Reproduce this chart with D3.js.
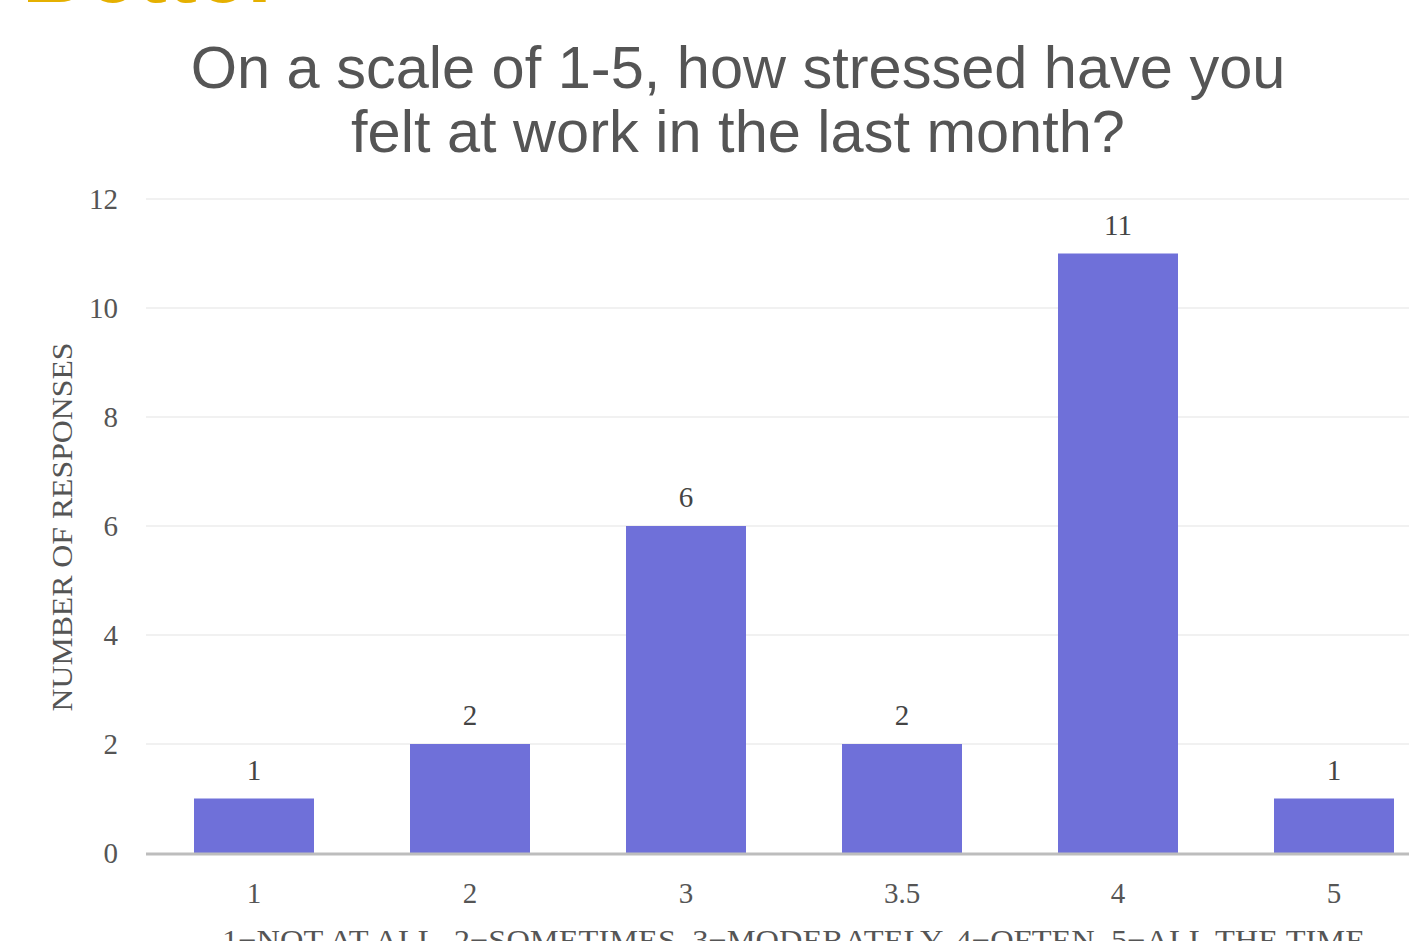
<!DOCTYPE html>
<html>
<head>
<meta charset="utf-8">
<script src="https://cdn.jsdelivr.net/npm/d3@7"></script>
<style>
  body { margin: 0; background: #fff; }
  svg { display: block; }
</style>
</head>
<body>
<div id="chart-container"></div>
<script>
// data
var categories = ['1', '2', '3', '3.5', '4', '5'];
var responses = [1, 2, 6, 2, 11, 1];
var yTicks = [0, 2, 4, 6, 8, 10, 12];

var titleLines = ['On a scale of 1-5, how stressed have you', 'felt at work in the last month?'];
var xTitle = '1\u2212NOT AT ALL, 2\u2212SOMETIMES, 3\u2212MODERATELY, 4\u2212OFTEN, 5\u2212ALL THE TIME';
var yTitle = 'NUMBER OF RESPONSES';

var W = 1409, H = 941;
var margin = { top: 199, right: 0, bottom: 88, left: 146 };
var height = H - margin.top - margin.bottom;

var svg = d3.select('#chart-container').append('svg')
  .attr('width', W)
  .attr('height', H);

// clipped header word at the very top
svg.append('text')
  .attr('x', 22)
  .attr('y', 2)
  .attr('font-family', 'Liberation Sans, Arial, sans-serif')
  .attr('font-weight', 'bold')
  .attr('font-size', 90)
  .attr('fill', '#e5b000')
  .text('Better');

// title
svg.append('g').selectAll('text')
  .data(titleLines)
  .enter().append('text')
  .attr('x', 738)
  .attr('y', function(d, i) { return 88 + i * 64; })
  .attr('text-anchor', 'middle')
  .attr('font-family', 'Liberation Sans, Arial, sans-serif')
  .attr('font-size', 59.5)
  .attr('fill', '#555')
  .text(function(d) { return d; });

var g = svg.append('g')
  .attr('transform', 'translate(0,' + margin.top + ')');

var x = d3.scaleBand()
  .domain(categories)
  .range([margin.left, margin.left + 6 * 216])
  .paddingInner(96 / 216)
  .paddingOuter(48 / 216);

var y = d3.scaleLinear()
  .domain([0, 12])
  .range([height, 0]);

// grid
g.append('g')
  .selectAll('line')
  .data(yTicks.slice(1))
  .enter().append('line')
  .attr('x1', margin.left)
  .attr('x2', W)
  .attr('y1', function(d) { return y(d); })
  .attr('y2', function(d) { return y(d); })
  .attr('stroke', '#ececec')
  .attr('stroke-width', 1.5);

// left axis (labels only)
var yAxis = d3.axisLeft(y).tickValues(yTicks).tickSize(0).tickPadding(0);
var ya = g.append('g')
  .attr('class', 'y axis')
  .attr('transform', 'translate(118,0)')
  .call(yAxis);
ya.select('.domain').remove();
ya.selectAll('text')
  .attr('font-family', 'Liberation Serif, Times New Roman, serif')
  .attr('font-size', 29)
  .attr('fill', '#555');

// bars
g.selectAll('rect.bar')
  .data(responses)
  .enter().append('rect')
  .attr('class', 'bar')
  .attr('x', function(d, i) { return x(categories[i]); })
  .attr('width', x.bandwidth())
  .attr('y', function(d) { return y(d); })
  .attr('height', function(d) { return height - y(d); })
  .attr('fill', '#6f70d9');

// value labels
g.selectAll('.label')
  .data(responses)
  .enter().append('text')
  .attr('class', 'label')
  .attr('x', function(d, i) { return x(categories[i]) + x.bandwidth() / 2; })
  .attr('y', function(d) { return y(d) - 19; })
  .attr('text-anchor', 'middle')
  .attr('font-family', 'Liberation Serif, Times New Roman, serif')
  .attr('font-size', 29)
  .attr('fill', '#444')
  .text(function(d) { return d; });

// baseline
g.append('line')
  .attr('x1', margin.left)
  .attr('x2', W)
  .attr('y1', y(0) + 1)
  .attr('y2', y(0) + 1)
  .attr('stroke', '#bdbdbd')
  .attr('stroke-width', 3);

// bottom axis labels
var xAxis = d3.axisBottom(x).tickSize(0).tickPadding(0);
var xa = g.append('g')
  .attr('transform', 'translate(0,' + (height + 29) + ')')
  .call(xAxis);
xa.select('.domain').remove();
xa.selectAll('text')
  .attr('dy', '0.71em')
  .attr('font-family', 'Liberation Serif, Times New Roman, serif')
  .attr('font-size', 29)
  .attr('fill', '#555');

// axis titles
svg.append('text')
  .attr('x', 222)
  .attr('y', 950)
  .attr('textLength', 1143)
  .attr('lengthAdjust', 'spacingAndGlyphs')
  .attr('font-family', 'Liberation Serif, Times New Roman, serif')
  .attr('font-size', 30)
  .attr('fill', '#555')
  .text(xTitle);

svg.append('text')
  .attr('transform', 'translate(72,527) rotate(-90)')
  .attr('text-anchor', 'middle')
  .attr('textLength', 369)
  .attr('lengthAdjust', 'spacingAndGlyphs')
  .attr('font-family', 'Liberation Serif, Times New Roman, serif')
  .attr('font-size', 29)
  .attr('fill', '#555')
  .text(yTitle);
</script>
</body>
</html>
